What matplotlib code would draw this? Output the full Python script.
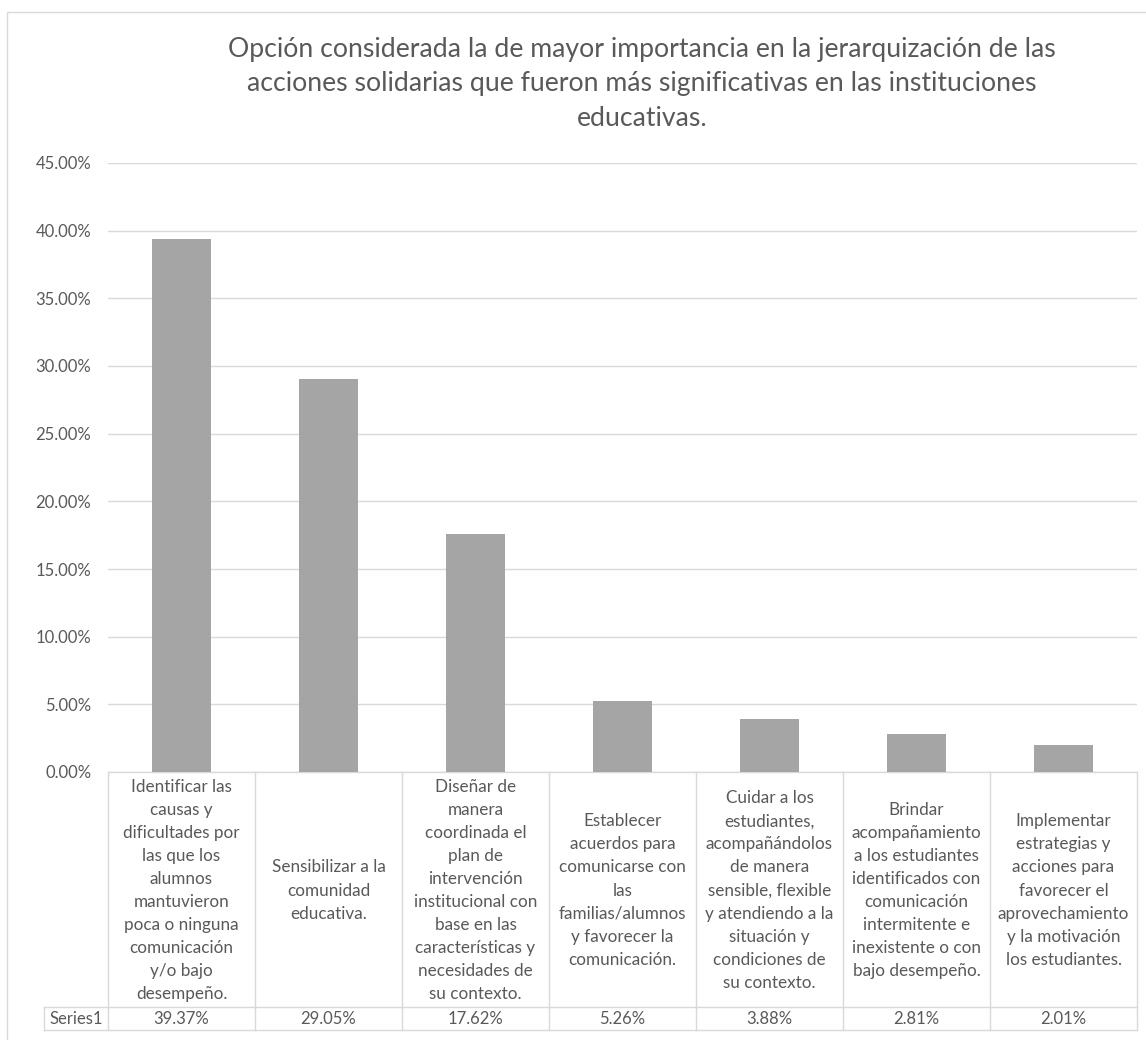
import matplotlib
matplotlib.use("Agg")
import matplotlib.pyplot as plt
from matplotlib.patches import Rectangle
from matplotlib.ticker import FuncFormatter, MultipleLocator

plt.rcParams['font.family'] = ['Lato', 'DejaVu Sans']

title = ("Opción considerada la de mayor importancia en la jerarquización de las\n"
         "acciones solidarias que fueron más significativas en las instituciones\n"
         "educativas.")
series_name = "Series1"
categories = [
    "Identificar las\ncausas y\ndificultades por\nlas que los\nalumnos\nmantuvieron\npoca o ninguna\ncomunicación\ny/o bajo\ndesempeño.",
    "Sensibilizar a la\ncomunidad\neducativa.",
    "Diseñar de\nmanera\ncoordinada el\nplan de\nintervención\ninstitucional con\nbase en las\ncaracterísticas y\nnecesidades de\nsu contexto.",
    "Establecer\nacuerdos para\ncomunicarse con\nlas\nfamilias/alumnos\ny favorecer la\ncomunicación.",
    "Cuidar a los\nestudiantes,\nacompañándolos\nde manera\nsensible, flexible\ny atendiendo a la\nsituación y\ncondiciones de\nsu contexto.",
    "Brindar\nacompañamiento\na los estudiantes\nidentificados con\ncomunicación\nintermitente e\ninexistente o con\nbajo desempeño.",
    "Implementar\nestrategias y\nacciones para\nfavorecer el\naprovechamiento\ny la motivación\nlos estudiantes.",
]
values = [0.3937, 0.2905, 0.1762, 0.0526, 0.0388, 0.0281, 0.0201]

W, H = 1146, 1040
fig = plt.figure(figsize=(W / 100, H / 100), dpi=100)
fig.patch.set_facecolor('white')

# chart frame
fig.patches.append(Rectangle((7 / W, -0.05), 1.1, 1 - 12 / H + 0.05, transform=fig.transFigure,
                             fill=False, edgecolor='#d9d9d9', linewidth=1.0))

ax_l, ax_r, ax_t, ax_b = 108, 1137, 163, 772
ax = fig.add_axes([ax_l / W, 1 - ax_b / H, (ax_r - ax_l) / W, (ax_b - ax_t) / H])

TXT = '#595959'
GRID = '#d9d9d9'
n = len(categories)
xs = list(range(n))
ax.bar(xs, values, width=0.4, color='#a5a5a5', zorder=3)
ax.set_xlim(-0.5, n - 0.5)
ax.set_ylim(0, 0.45)
ax.yaxis.set_major_locator(MultipleLocator(0.05))
ax.yaxis.set_major_formatter(FuncFormatter(lambda v, p: f"{v * 100:.2f}%"))
ax.grid(axis='y', color=GRID, linewidth=1.0, zorder=0)
for s in ax.spines.values():
    s.set_visible(False)
ax.tick_params(axis='y', length=0, pad=12, labelsize=12, labelcolor=TXT)
ax.tick_params(axis='x', length=0, labelbottom=False)

# data table below the axis
ah = ax_b - ax_t
cw = (ax_r - ax_l) / n
def fy(px):
    return (ax_b - px) / ah
trans = ax.get_xaxis_transform()
y_top, y_mid, y_bot = fy(772), fy(1007), fy(1030)
x_head = -0.5 - (ax_l - 44) / cw
lk = dict(color=GRID, linewidth=1.0, transform=trans, clip_on=False, zorder=1)
ax.plot([-0.5, n - 0.5], [y_top, y_top], **lk)
ax.plot([x_head, n - 0.5], [y_mid, y_mid], **lk)
ax.plot([x_head, n - 0.5], [y_bot, y_bot], **lk)
ax.plot([x_head, x_head], [y_mid, y_bot], **lk)
for i in range(n + 1):
    ax.plot([i - 0.5, i - 0.5], [y_top, y_bot], **lk)

lab_c = fy((774 + 1007) / 2)
val_c = fy((1007 + 1030) / 2)
for x, lab, v in zip(xs, categories, values):
    ax.text(x, lab_c, lab, transform=trans, ha='center', va='center', fontsize=12.3,
            color=TXT, linespacing=1.54, clip_on=False)
    ax.text(x, val_c, f"{v * 100:.2f}%", transform=trans, ha='center', va='center',
            fontsize=12, color=TXT, clip_on=False)
ax.text((x_head - 0.5) / 2, val_c, series_name, transform=trans, ha='center', va='center',
        fontsize=12, color=TXT, clip_on=False)

fig.text(642 / W, 1 - 84 / H, title, ha='center', va='center', fontsize=19.2,
         color=TXT, linespacing=1.5)

fig.savefig('out.png', dpi=100)
